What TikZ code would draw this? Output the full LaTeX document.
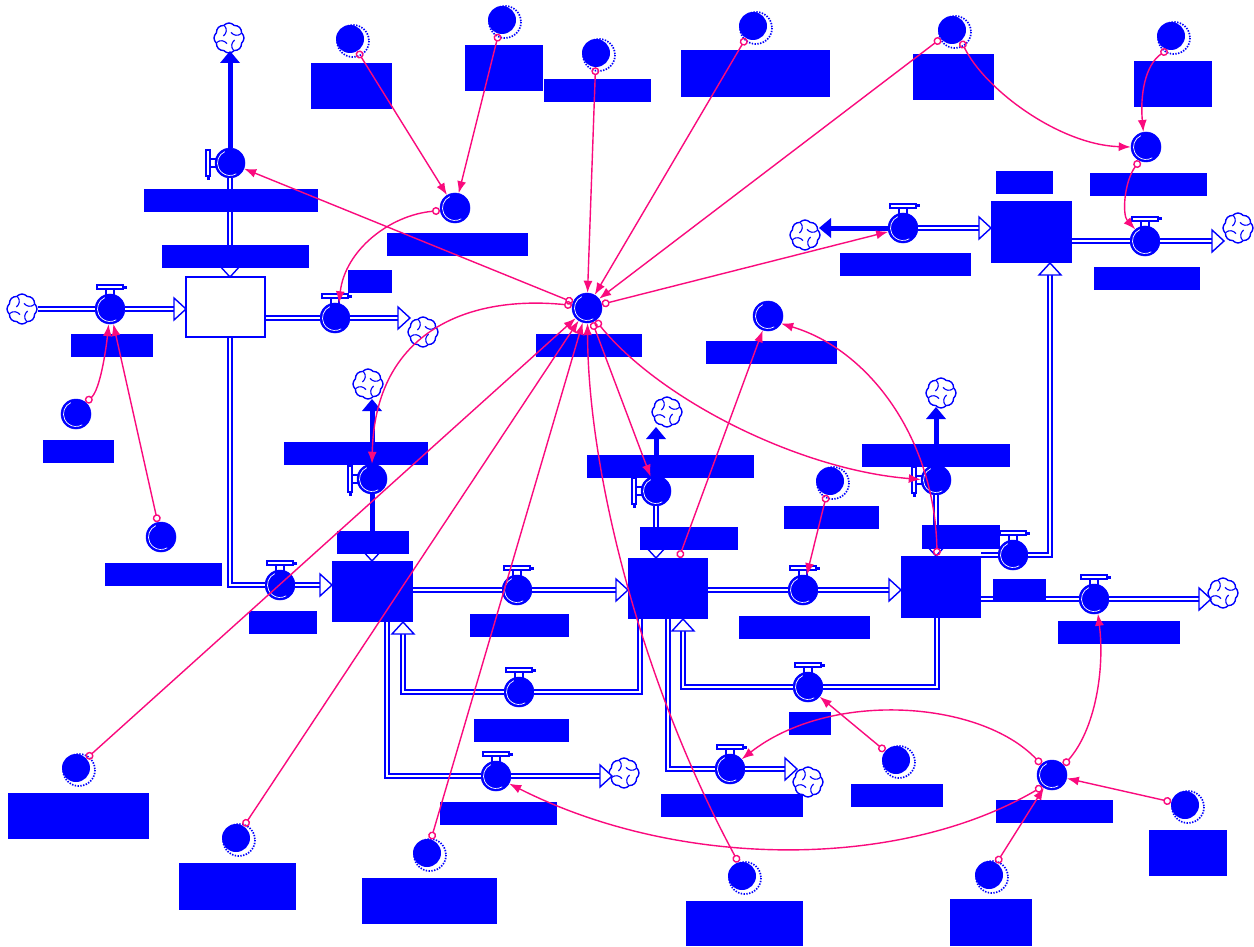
\documentclass[tikz,border=0pt]{standalone}
\usetikzlibrary{arrows.meta,shapes.symbols,fit,calc}
\definecolor{vblue}{RGB}{0,0,255}
\definecolor{cpink}{RGB}{250,10,125}
\tikzset{
  pipe/.style={draw=vblue, line width=6pt, postaction={draw=white, line width=2pt}},
  thickpipe/.style={draw=vblue, line width=5pt},
  stockw/.style={draw=vblue, line width=2pt, fill=white, inner sep=0pt},
  stockf/.style={fill=vblue, inner sep=0pt},
  lab/.style={fill=vblue, inner sep=0pt},
  shine/.style={path picture={\draw[white, line width=0.7pt]
      ([shift={(115:12.5pt)}]path picture bounding box.center)
      arc[start angle=115, end angle=300, radius=12.5pt];}},
  valve/.style={circle, fill=vblue, draw=vblue, line width=0.5pt, minimum size=30pt, inner sep=0pt, shine},
  auxv/.style={valve},
  shad/.style={circle, fill=vblue, minimum size=28pt, inner sep=0pt},
  dotring/.style={draw=vblue, line width=1.7pt, dash pattern=on 1.4pt off 1.4pt},
  cloudn/.style={cloud, cloud puffs=8, cloud puff arc=100, aspect=1, draw=vblue, fill=white, line width=1.4pt,
      minimum width=30pt, minimum height=30pt, inner sep=0pt,
      path picture={\foreach \a in {20,110,200,290}{
        \draw[vblue, line width=1.1pt] ([shift={(\a:13pt)}]path picture bounding box.center)
          to[bend left=50] ([shift={(\a+50:6pt)}]path picture bounding box.center);}}},
  conn/.style={draw=cpink, line width=1.4pt, arrows={Circle[open,length=8pt,width=8pt]-Latex[length=12pt,width=9pt]}},
  pics/htip/.style={code={\draw[vblue, fill=white, line width=1.4pt] (0,-11) -- (12,0) -- (0,11) -- cycle;}},
  pics/ftip/.style={code={\fill[vblue] (0,-10) -- (12,0) -- (0,10) -- cycle;}},
}
% valve with its handle above the pipe
\newcommand\flowH[3]{%
  \draw[vblue, line width=1.2pt, fill=white] (#2-4,#3-20) rectangle (#2+4,#3-14);
  \draw[vblue, line width=1.2pt, fill=white] (#2-13,#3-24) rectangle (#2+13,#3-20);
  \fill[vblue] (#2+13,#3-23.5) rectangle (#2+17,#3-20.5);
  \node[valve] (#1) at (#2,#3) {};}
% valve with its handle left of the pipe
\newcommand\flowV[3]{%
  \draw[vblue, line width=1.2pt, fill=white] (#2-20,#3-4) rectangle (#2-14,#3+4);
  \draw[vblue, line width=1.2pt, fill=white] (#2-24,#3-13) rectangle (#2-20,#3+13);
  \fill[vblue] (#2-23.5,#3+13) rectangle (#2-20.5,#3+17);
  \node[valve] (#1) at (#2,#3) {};}
% shadow variable with dotted ring
\newcommand\shadowv[3]{%
  \draw[dotring] (#2+3,#3+2) circle[radius=16];
  \node[shad] (#1) at (#2,#3) {};}

\begin{document}
\begin{tikzpicture}[x=1pt,y=-1pt]
\fill[white] (0,0) rectangle (1254,947);
\useasboundingbox (0,0) rectangle (1254,947);

% stocks
\node[stockw, fit={(186,277) (265,337)}] (s1) {};
\node[stockf, fit={(332,561) (413,622)}] (s2) {};
\node[stockf, fit={(628,558) (708,619)}] (s3) {};
\node[stockf, fit={(901,556) (981,618)}] (s4) {};
\node[stockf, fit={(991,201) (1072,263)}] (s5) {};

% sources and sinks
\node[cloudn] (c1) at (229,38) {};
\node[cloudn] (c2) at (22,309) {};
\node[cloudn] (c3) at (423,332) {};
\node[cloudn] (c4) at (368,384) {};
\node[cloudn] (c5) at (667,412) {};
\node[cloudn] (c6) at (805,235) {};
\node[cloudn] (c7) at (1238,228) {};
\node[cloudn] (c8) at (624,773) {};
\node[cloudn] (c9) at (808,782) {};
\node[cloudn] (c10) at (1223,593) {};
\node[cloudn] (c11) at (941,393) {};

% valves
\flowV{v1}{230}{163}
\flowV{v2}{372}{479}
\flowV{v3}{656}{491}
\flowV{v4}{936}{480}
\flowH{v5}{110}{309}
\flowH{v6}{335}{318}
\flowH{v7}{280}{585}
\flowH{v8}{517}{590}
\flowH{v9}{519}{692}
\flowH{v10}{496}{776}
\flowH{v11}{803}{590}
\flowH{v12}{808}{687}
\flowH{v13}{730}{769}
\flowH{v14}{1094}{599}
\flowH{v15}{1013}{555}
\flowH{v16}{903}{228}
\flowH{v17}{1145}{241}

% auxiliaries
\node[auxv] (hub) at (587,308) {};
\node[auxv] (a1) at (455,208) {};
\node[auxv] (a2) at (768,316) {};
\node[auxv] (a3) at (76,414) {};
\node[auxv] (a4) at (161,537) {};
\node[auxv] (a5) at (1146,147) {};
\node[auxv] (a6) at (1052,775) {};

% shadow variables
\shadowv{w1}{350}{39}
\shadowv{w2}{502}{20}
\shadowv{w3}{596}{53}
\shadowv{w4}{753}{26}
\shadowv{w5}{952}{30}
\shadowv{w6}{1171}{36}
\shadowv{w7}{830}{481}
\shadowv{w8}{896}{760}
\shadowv{w9}{76}{768}
\shadowv{w10}{236}{838}
\shadowv{w11}{427}{853}
\shadowv{w12}{742}{876}
\shadowv{w13}{989}{875}
\shadowv{w14}{1185}{805}

% pipe ends
\coordinate (b1) at (230,265);  \coordinate (t1) at (230,63);
\coordinate (b2) at (372,549);  \coordinate (t2) at (372,411);
\coordinate (b3) at (656,546);  \coordinate (t3) at (656,439);
\coordinate (b4) at (936,544);  \coordinate (t4) at (936,419);
\coordinate (e5) at (174,309);
\coordinate (e6) at (398,318);
\coordinate (e7) at (320,585);
\coordinate (e8) at (616,590);
\coordinate (e9) at (403,634);
\coordinate (e10) at (600,776);
\coordinate (e11) at (889,590);
\coordinate (e12) at (683,631);
\coordinate (e13) at (785,769);
\coordinate (e14) at (1199,599);
\coordinate (e15) at (1050,275);
\coordinate (e16) at (979,228);  \coordinate (t16) at (831,228);
\coordinate (e17) at (1212,241);

% pipes
\draw[pipe] (b1) -- (v1);  \draw[thickpipe] (v1) -- (t1);
\draw[thickpipe] (b2) -- (v2) -- (t2);
\draw[pipe] (b3) -- (v3);  \draw[thickpipe] (v3) -- (t3);
\draw[pipe] (b4) -- (v4);  \draw[thickpipe] (v4) -- (t4);
\draw[pipe] (c2) -- (v5) -- (e5);
\draw[pipe] (s1.east |- v6) -- (v6) -- (e6);
\draw[pipe] (s1.south -| v1) |- (v7) -- (e7);
\draw[pipe] (s2.east |- v8) -- (v8) -- (e8);
\draw[pipe] ([xshift=-28pt]s3.south) |- (v9) -| (e9);
\draw[pipe] ([xshift=14pt]s2.south) |- (v10) -- (e10);
\draw[pipe] (s3.east |- v11) -- (v11) -- (e11);
\draw[pipe] ([xshift=-4pt]s4.south) |- (v12) -| (e12);
\draw[pipe] (s3.south) |- (v13) -- (e13);
\draw[pipe] (s4.east |- v14) -- (v14) -- (e14);
\draw[pipe] (s4.east |- v15) -- (v15) -| (e15);
\draw[pipe] (v16) -- (e16);  \draw[thickpipe] (v16) -- (t16);
\draw[pipe] (s5.east |- v17) -- (v17) -- (e17);

% pipe heads
\pic[rotate=-90] at (b1) {htip};  \pic[rotate=90] at (t1) {ftip};
\pic[rotate=-90] at (b2) {htip};  \pic[rotate=90] at (t2) {ftip};
\pic[rotate=-90] at (b3) {htip};  \pic[rotate=90] at (t3) {ftip};
\pic[rotate=-90] at (b4) {htip};  \pic[rotate=90] at (t4) {ftip};
\pic at (e5) {htip};
\pic at (e6) {htip};
\pic at (e7) {htip};
\pic at (e8) {htip};
\pic[rotate=90] at (e9) {htip};
\pic at (e10) {htip};
\pic at (e11) {htip};
\pic[rotate=90] at (e12) {htip};
\pic at (e13) {htip};
\pic at (e14) {htip};
\pic[rotate=90] at (e15) {htip};
\pic at (e16) {htip};  \pic[rotate=180] at (t16) {ftip};
\pic at (e17) {htip};

% name plates
\node[lab, fit={(311,63) (392,109)}] (l1) {};
\node[lab, fit={(465,45) (543,91)}] (l2) {};
\node[lab, fit={(544,79) (651,102)}] (l3) {};
\node[lab, fit={(681,50) (830,97)}] (l4) {};
\node[lab, fit={(913,54) (994,100)}] (l5) {};
\node[lab, fit={(1134,61) (1212,107)}] (l6) {};
\node[lab, fit={(144,189) (318,212)}] (l7) {};
\node[lab, fit={(162,245) (309,268)}] (l8) {};
\node[lab, fit={(387,233) (528,256)}] (l9) {};
\node[lab, fit={(348,270) (392,293)}] (l10) {};
\node[lab, fit={(996,171) (1053,194)}] (l11) {};
\node[lab, fit={(1090,173) (1207,196)}] (l12) {};
\node[lab, fit={(840,253) (971,276)}] (l13) {};
\node[lab, fit={(1094,267) (1200,290)}] (l14) {};
\node[lab, fit={(71,334) (153,357)}] (l15) {};
\node[lab, fit={(536,334) (642,357)}] (l16) {};
\node[lab, fit={(706,341) (837,364)}] (l17) {};
\node[lab, fit={(43,440) (114,463)}] (l18) {};
\node[lab, fit={(284,442) (428,465)}] (l19) {};
\node[lab, fit={(587,455) (754,478)}] (l20) {};
\node[lab, fit={(862,444) (1010,467)}] (l21) {};
\node[lab, fit={(784,506) (879,529)}] (l22) {};
\node[lab, fit={(337,531) (409,554)}] (l23) {};
\node[lab, fit={(640,527) (738,550)}] (l24) {};
\node[lab, fit={(922,525) (1000,549)}] (l25) {};
\node[lab, fit={(105,563) (222,586)}] (l26) {};
\node[lab, fit={(249,611) (317,634)}] (l27) {};
\node[lab, fit={(470,614) (569,637)}] (l28) {};
\node[lab, fit={(739,616) (870,639)}] (l29) {};
\node[lab, fit={(993,579) (1046,602)}] (l30) {};
\node[lab, fit={(1058,621) (1180,644)}] (l31) {};
\node[lab, fit={(474,719) (569,742)}] (l32) {};
\node[lab, fit={(789,712) (831,735)}] (l33) {};
\node[lab, fit={(851,784) (943,807)}] (l34) {};
\node[lab, fit={(440,802) (557,825)}] (l35) {};
\node[lab, fit={(661,794) (803,817)}] (l36) {};
\node[lab, fit={(996,800) (1113,823)}] (l37) {};
\node[lab, fit={(8,793) (149,839)}] (l38) {};
\node[lab, fit={(179,863) (296,910)}] (l39) {};
\node[lab, fit={(362,878) (497,924)}] (l40) {};
\node[lab, fit={(686,901) (803,946)}] (l41) {};
\node[lab, fit={(950,899) (1032,946)}] (l42) {};
\node[lab, fit={(1149,830) (1227,876)}] (l43) {};

% causal links
\draw[conn] (w1) -- (a1);
\draw[conn] (w2) -- (a1);
\draw[conn] (w3) -- (hub);
\draw[conn] (w4) -- (hub);
\draw[conn] (w5) -- (hub);
\draw[conn] (w5.-50) .. controls (985,90) and (1060,145) .. (a5.west);
\draw[conn] (w6.-105) .. controls (1145,65) and (1140,95) .. (a5.100);
\draw[conn] (a5.-115) .. controls (1124,182) and (1122,215) .. (v17.130);
\draw[conn] (hub) -- (v1);
\draw[conn] (hub) -- (v16);
\draw[conn] (a1.190) .. controls (390,215) and (345,250) .. (v6.75);
\draw[conn] (hub.170) .. controls (470,295) and (375,330) .. (v2.north);
\draw[conn] (hub) -- (v3);
\draw[conn] (hub.-55) .. controls (660,400) and (800,470) .. (v4.178);
\draw[conn] (a3.50) .. controls (100,390) and (106,350) .. (v5.-95);
\draw[conn] (a4) -- (v5);
\draw[conn] ([xshift=11pt]s3.north) -- (a2);
\draw[conn] ([xshift=-4pt]s4.north) .. controls (935,440) and (870,350) .. (a2.-30);
\draw[conn] (w7) -- (v11);
\draw[conn] (w9) -- (hub);
\draw[conn] (w10) -- (hub);
\draw[conn] (w11) -- (hub);
\draw[conn] (w12.105) .. controls (640,680) and (588,470) .. (hub.-88);
\draw[conn] (w8) -- (v12);
\draw[conn] (a6.135) .. controls (980,700) and (830,690) .. (v13.40);
\draw[conn] (a6.40) .. controls (1095,730) and (1105,670) .. (v14.-75);
\draw[conn] (a6.-130) .. controls (900,870) and (680,870) .. (v10.-30);
\draw[conn] (w14) -- (a6);
\draw[conn] (w13) -- (a6);
\end{tikzpicture}
\end{document}
